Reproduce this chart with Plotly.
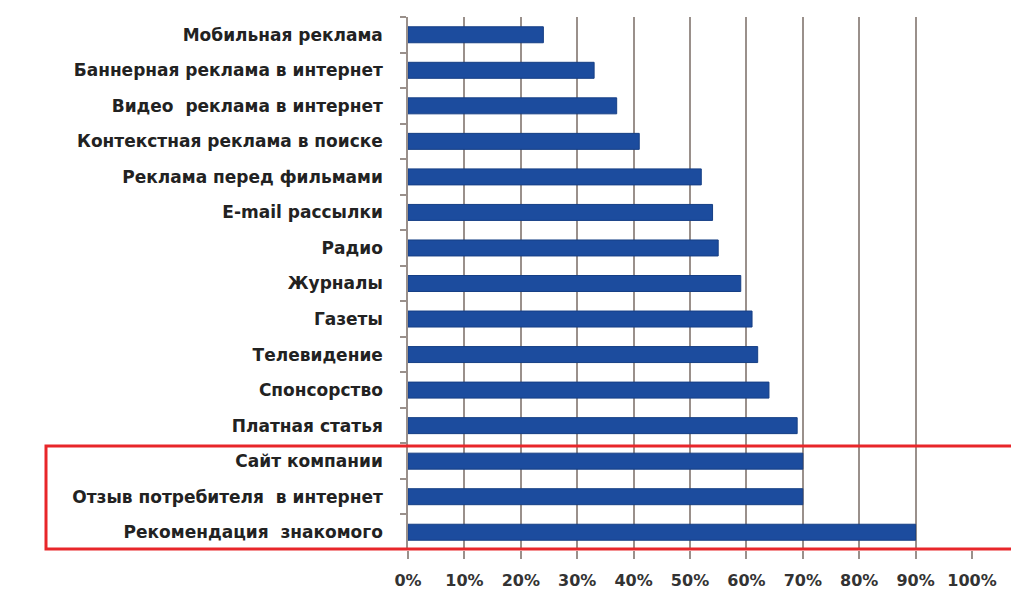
import plotly.graph_objects as go

categories = [
    "Мобильная реклама",
    "Баннерная реклама в интернет",
    "Видео  реклама в интернет",
    "Контекстная реклама в поиске",
    "Реклама перед фильмами",
    "E-mail рассылки",
    "Радио",
    "Журналы",
    "Газеты",
    "Телевидение",
    "Спонсорство",
    "Платная статья",
    "Сайт компании",
    "Отзыв потребителя  в интернет",
    "Рекомендация  знакомого",
]
values = [0.24, 0.33, 0.37, 0.41, 0.52, 0.54, 0.55, 0.59, 0.61, 0.62, 0.64, 0.69, 0.70, 0.70, 0.90]
tick_vals = [0, 0.1, 0.2, 0.3, 0.4, 0.5, 0.6, 0.7, 0.8, 0.9, 1.0]
tick_text = ["0%", "10%", "20%", "30%", "40%", "50%", "60%", "70%", "80%", "90%", "100%"]

W, H = 1011, 594
ml, mr, mt, mb = 408, 39, 17, 44

fig = go.Figure(go.Bar(
    x=values, y=categories, orientation="h",
    marker=dict(color="#1c4c9e", line=dict(color="#163f85", width=1)),
    width=0.45,
))

grid = "#9a908b"
fig.update_layout(
    width=W, height=H,
    margin=dict(l=ml, r=mr, t=mt, b=mb, autoexpand=False),
    paper_bgcolor="white", plot_bgcolor="white",
    showlegend=False,
    font=dict(family="DejaVu Sans", color="#222222"),
    xaxis=dict(
        range=[0, 1.0], tickvals=tick_vals, ticktext=tick_text,
        showgrid=True, gridcolor=grid, gridwidth=1.5,
        zeroline=False, showline=False, automargin=False,
        ticks="outside", ticklen=8, tickcolor=grid, tickwidth=1.5,
        tickfont=dict(size=16, family="DejaVu Sans", weight="bold", color="#333333"),
        ticklabelstandoff=8,
    ),
    yaxis=dict(
        autorange="reversed", type="category", automargin=False,
        showgrid=False, zeroline=False,
        showline=True, linecolor=grid, linewidth=1.5,
        ticks="outside", tickson="boundaries", ticklen=6, tickcolor=grid, tickwidth=1.5,
        tickfont=dict(size=17, family="DejaVu Sans", weight="bold", color="#222222"),
        ticklabelstandoff=20,
    ),
)

pw = W - ml - mr
ph = H - mt - mb
def px_x(p):
    return (p - ml) / pw
def px_y(p):
    return (H - mb - p) / ph

fig.add_shape(
    type="rect", xref="paper", yref="paper",
    x0=px_x(46), x1=px_x(1020), y0=px_y(549), y1=px_y(446),
    line=dict(color="#e8262a", width=3), fillcolor="rgba(0,0,0,0)",
    layer="above",
)

fig.write_html("out.html", config={"displayModeBar": False},
               post_script="document.body.style.margin='0';")
